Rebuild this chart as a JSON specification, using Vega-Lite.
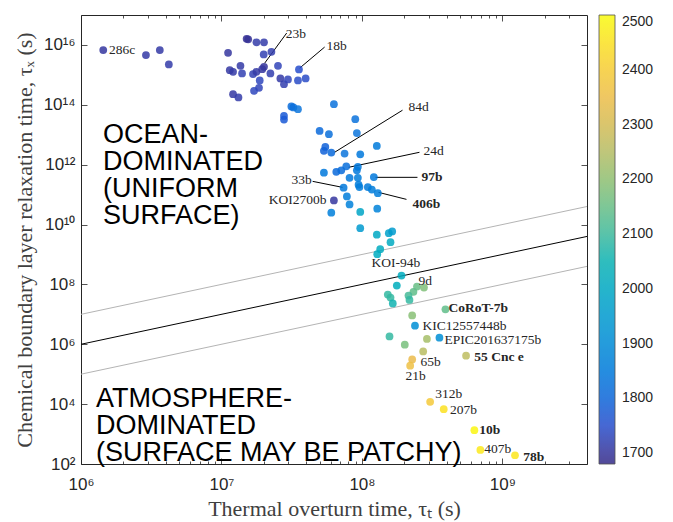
{
  "$schema": "https://vega.github.io/schema/vega-lite/v6.json",
  "width": 506,
  "height": 449,
  "autosize": {"type": "none"},
  "padding": {"left": 81, "top": 15, "right": 86, "bottom": 58},
  "background": "white",
  "datasets": {
    "refs": [
      {"kind": "equal", "x": 1e6, "y": 1e6},
      {"kind": "equal", "x": 4e9, "y": 4e9},
      {"kind": "upper", "x": 1e6, "y": 1e7},
      {"kind": "upper", "x": 4e9, "y": 4e10},
      {"kind": "lower", "x": 1e6, "y": 1e5},
      {"kind": "lower", "x": 4e9, "y": 4e8}
    ],
    "leaders": [
      {"x": 2.912e7, "y": 2.497e16, "x2": 2.031e7, "y2": 2.472e15},
      {"x": 5.424e7, "y": 8.486e15, "x2": 3.602e7, "y2": 1.681e15},
      {"x": 1.944e8, "y": 6.598e13, "x2": 6.388e7, "y2": 2.592e12},
      {"x": 2.567e8, "y": 2.592e12, "x2": 8.032e7, "y2": 8.153e11},
      {"x": 2.484e8, "y": 3.772e11, "x2": 1.249e8, "y2": 3.772e11},
      {"x": 2.075e8, "y": 6.918e10, "x2": 1.312e8, "y2": 1.187e11},
      {"x": 4.456e7, "y": 2.771e11, "x2": 7.28e7, "y2": 1.745e11}
    ],
    "pts": [
      {"x": 1.44e6, "y": 6.73e15, "T": 1705},
      {"x": 2.90e6, "y": 4.58e15, "T": 1712},
      {"x": 3.64e6, "y": 6.73e15, "T": 1712},
      {"x": 4.22e6, "y": 2.24e15, "T": 1715},
      {"x": 1.114e7, "y": 5.47e15, "T": 1705},
      {"x": 1.51e7, "y": 1.60e16, "T": 1695},
      {"x": 1.55e7, "y": 1.54e16, "T": 1695},
      {"x": 1.774e7, "y": 1.22e16, "T": 1715},
      {"x": 2.008e7, "y": 1.22e16, "T": 1715},
      {"x": 1.998e7, "y": 4.83e15, "T": 1725},
      {"x": 2.267e7, "y": 5.91e15, "T": 1720},
      {"x": 1.365e7, "y": 2.01e15, "T": 1712},
      {"x": 1.146e7, "y": 1.44e15, "T": 1708},
      {"x": 1.209e7, "y": 1.26e15, "T": 1712},
      {"x": 1.401e7, "y": 1.12e15, "T": 1725},
      {"x": 1.677e7, "y": 1.06e15, "T": 1725},
      {"x": 1.774e7, "y": 1.26e15, "T": 1712},
      {"x": 2.008e7, "y": 1.86e15, "T": 1700},
      {"x": 1.95e7, "y": 1.55e15, "T": 1705},
      {"x": 2.23e7, "y": 1.12e15, "T": 1720},
      {"x": 2.525e7, "y": 2.01e15, "T": 1730},
      {"x": 1.872e7, "y": 6.51e14, "T": 1735},
      {"x": 1.85e7, "y": 3.68e14, "T": 1730},
      {"x": 1.705e7, "y": 2.92e14, "T": 1735},
      {"x": 1.209e7, "y": 2.27e14, "T": 1708},
      {"x": 1.321e7, "y": 1.76e14, "T": 1715},
      {"x": 2.626e7, "y": 7.6e14, "T": 1712},
      {"x": 2.786e7, "y": 4.9e14, "T": 1720},
      {"x": 2.974e7, "y": 7.04e14, "T": 1730},
      {"x": 3.503e7, "y": 6.51e14, "T": 1745},
      {"x": 3.973e7, "y": 7.6e14, "T": 1745},
      {"x": 3.561e7, "y": 1.52e15, "T": 1750},
      {"x": 3.145e7, "y": 8.78e13, "T": 1815},
      {"x": 3.25e7, "y": 8.2e13, "T": 1820},
      {"x": 3.503e7, "y": 7.13e13, "T": 1835},
      {"x": 2.786e7, "y": 4.25e13, "T": 1770},
      {"x": 2.786e7, "y": 3.22e13, "T": 1770},
      {"x": 6.314e7, "y": 1.05e14, "T": 1830},
      {"x": 8.963e7, "y": 3.3e13, "T": 1830},
      {"x": 4.996e7, "y": 1.34e13, "T": 1810},
      {"x": 5.817e7, "y": 1.04e13, "T": 1825},
      {"x": 9.2e7, "y": 1.14e13, "T": 1835},
      {"x": 5.485e7, "y": 3.9e12, "T": 1790},
      {"x": 5.36e7, "y": 2.91e12, "T": 1790},
      {"x": 6.051e7, "y": 2.53e12, "T": 1810},
      {"x": 7.523e7, "y": 2.34e12, "T": 1835},
      {"x": 9.725e7, "y": 2.22e12, "T": 1845},
      {"x": 1.276e8, "y": 4.21e12, "T": 1850},
      {"x": 5.36e7, "y": 5.42e11, "T": 1845},
      {"x": 6.567e7, "y": 5.76e11, "T": 1810},
      {"x": 7.128e7, "y": 6.47e11, "T": 1815},
      {"x": 7.735e7, "y": 8.81e11, "T": 1820},
      {"x": 9.352e7, "y": 8.47e11, "T": 1845},
      {"x": 9.2e7, "y": 6.47e11, "T": 1845},
      {"x": 8.162e7, "y": 3.63e11, "T": 1845},
      {"x": 9.352e7, "y": 3.63e11, "T": 1855},
      {"x": 1.215e8, "y": 3.86e11, "T": 1845},
      {"x": 7.401e7, "y": 1.7e11, "T": 1845},
      {"x": 9.459e7, "y": 2.15e11, "T": 1855},
      {"x": 9.6e7, "y": 1.79e11, "T": 1855},
      {"x": 1.101e8, "y": 1.79e11, "T": 1850},
      {"x": 1.176e8, "y": 1.47e11, "T": 1855},
      {"x": 1.297e8, "y": 1.12e11, "T": 1855},
      {"x": 7.812e7, "y": 8.72e10, "T": 1855},
      {"x": 6.314e7, "y": 6.41e10, "T": 1705},
      {"x": 8.162e7, "y": 4.7e10, "T": 1870},
      {"x": 6.051e7, "y": 2.48e10, "T": 1865},
      {"x": 9.725e7, "y": 2.64e10, "T": 1990},
      {"x": 1.285e8, "y": 3.38e10, "T": 1875},
      {"x": 9.725e7, "y": 7.57e9, "T": 1950},
      {"x": 1.276e8, "y": 4.6e9, "T": 2000},
      {"x": 1.553e8, "y": 5.15e9, "T": 1975},
      {"x": 1.642e8, "y": 5.87e9, "T": 1955},
      {"x": 1.597e8, "y": 2.57e9, "T": 2010},
      {"x": 1.349e8, "y": 1.5e9, "T": 2015},
      {"x": 1.285e8, "y": 1.02e9, "T": 2015},
      {"x": 1.912e8, "y": 1.98e8, "T": 2020},
      {"x": 1.771e8, "y": 9.14e7, "T": 2025},
      {"x": 2.464e8, "y": 8.46e7, "T": 2150},
      {"x": 2.764e8, "y": 7.83e7, "T": 2180},
      {"x": 2.326e8, "y": 5.67e7, "T": 2140},
      {"x": 1.528e8, "y": 4.57e7, "T": 2090},
      {"x": 1.597e8, "y": 3.62e7, "T": 2090},
      {"x": 1.658e8, "y": 2.32e7, "T": 2055},
      {"x": 2.144e8, "y": 4.23e7, "T": 2110},
      {"x": 2.179e8, "y": 3.04e7, "T": 2090},
      {"x": 3.929e8, "y": 1.47e7, "T": 2140},
      {"x": 2.278e8, "y": 9.19e6, "T": 2190},
      {"x": 2.385e8, "y": 4.18e6, "T": 1910},
      {"x": 1.571e8, "y": 1.83e6, "T": 2090},
      {"x": 2.901e8, "y": 1.5e6, "T": 2230},
      {"x": 3.561e8, "y": 1.66e6, "T": 1910},
      {"x": 2.018e8, "y": 9.67e5, "T": 2170},
      {"x": 2.728e8, "y": 5.77e5, "T": 2255},
      {"x": 5.51e8, "y": 4.14e5, "T": 2265},
      {"x": 2.278e8, "y": 3.12e5, "T": 2340},
      {"x": 2.204e8, "y": 1.92e5, "T": 2360},
      {"x": 3.058e8, "y": 1.2e4, "T": 2390},
      {"x": 3.821e8, "y": 6.81e3, "T": 2450},
      {"x": 6.314e8, "y": 1.35e3, "T": 2490},
      {"x": 6.965e8, "y": 2.95e2, "T": 2465},
      {"x": 1.229e9, "y": 1.96e2, "T": 2460}
    ],
    "labelsLeft": [
      {"x": 1.581e6, "y": 6.73e15, "label": "286c"},
      {"x": 2.864e7, "y": 2.312e16, "label": "23b"},
      {"x": 5.604e7, "y": 9.38e15, "label": "18b"},
      {"x": 2.144e8, "y": 8.128e13, "label": "84d"},
      {"x": 2.741e8, "y": 2.8e12, "label": "24d"},
      {"x": 1.17e8, "y": 5.383e8, "label": "KOI-94b"},
      {"x": 2.526e8, "y": 1.343e8, "label": "9d"},
      {"x": 2.696e8, "y": 4.184e6, "label": "KIC12557448b"},
      {"x": 3.864e8, "y": 1.422e6, "label": "EPIC201637175b"},
      {"x": 2.61e8, "y": 2.472e5, "label": "65b"},
      {"x": 2.041e8, "y": 8.4e4, "label": "21b"},
      {"x": 3.319e8, "y": 2.265e4, "label": "312b"},
      {"x": 4.243e8, "y": 6.457e3, "label": "207b"},
      {"x": 7.436e8, "y": 3.119e2, "label": "407b"}
    ],
    "labelsRight": [
      {"x": 4.384e7, "y": 3.158e11, "label": "33b"},
      {"x": 5.604e7, "y": 6.406e10, "label": "KOI2700b"}
    ],
    "labelsBold": [
      {"x": 2.652e8, "y": 3.772e11, "label": "97b"},
      {"x": 2.289e8, "y": 4.705e10, "label": "406b"},
      {"x": 4.126e8, "y": 1.589e7, "label": "CoRoT-7b"},
      {"x": 6.314e8, "y": 3.635e5, "label": "55 Cnc e"},
      {"x": 6.852e8, "y": 1.349e3, "label": "10b"},
      {"x": 1.408e9, "y": 1.722e2, "label": "78b"}
    ],
    "regions": [
      {"x": 1.433e6, "y": 5.185e12, "text": "OCEAN-\nDOMINATED\n(UNIFORM\nSURFACE)"},
      {"x": 1.278e6, "y": 8.13e3, "text": "ATMOSPHERE-\nDOMINATED\n(SURFACE MAY BE PATCHY)"}
    ]
  },
  "resolve": {"axis": {"x": "independent", "y": "independent"}},
  "layer": [
    {
      "data": {"name": "refs"},
      "mark": {"type": "line", "strokeWidth": 1},
      "encoding": {
        "x": {"field": "x", "type": "quantitative", "scale": {"type": "log", "domain": [1e6, 4e9], "nice": false},
          "axis": {"orient": "bottom", "values": [1e6, 1e7, 1e8, 1e9], "tickSize": -6, "labelPadding": 18,
            "labelExpr": "'10' + substring('⁰¹²³⁴⁵⁶⁷⁸⁹', round(log(datum.value)/LN10), round(log(datum.value)/LN10) + 1)",
            "title": "Thermal overturn time, τₜ (s)", "titlePadding": 6}},
        "y": {"field": "y", "type": "quantitative", "scale": {"type": "log", "domain": [1e2, 1e17], "nice": false},
          "axis": {"orient": "left", "values": [1e2, 1e4, 1e6, 1e8, 1e10, 1e12, 1e14, 1e16], "tickSize": -6, "labelPadding": 12,
            "labelExpr": "'10' + (datum.value >= 1e10 ? '¹' : '') + substring('⁰¹²³⁴⁵⁶⁷⁸⁹', round(log(datum.value)/LN10) % 10, round(log(datum.value)/LN10) % 10 + 1)",
            "title": "Chemical boundary layer relaxation time, τₓ (s)", "titlePadding": 7}},
        "stroke": {"field": "kind", "type": "nominal", "scale": {"domain": ["equal", "upper", "lower"], "range": ["#000000", "#b4b4b4", "#b4b4b4"]}, "legend": null}
      }
    },
    {
      "data": {"name": "leaders"},
      "mark": {"type": "rule", "color": "#000000", "strokeWidth": 1},
      "encoding": {
        "x": {"field": "x", "type": "quantitative", "scale": {"type": "log", "domain": [1e6, 4e9], "nice": false},
          "axis": {"orient": "bottom", "values": [2e6, 3e6, 4e6, 5e6, 6e6, 7e6, 8e6, 9e6, 2e7, 3e7, 4e7, 5e7, 6e7, 7e7, 8e7, 9e7, 2e8, 3e8, 4e8, 5e8, 6e8, 7e8, 8e8, 9e8, 2e9, 3e9], "tickSize": -3, "labels": false, "title": null}},
        "y": {"field": "y", "type": "quantitative", "scale": {"type": "log", "domain": [1e2, 1e17], "nice": false},
          "axis": {"orient": "right", "values": [1e2, 1e4, 1e6, 1e8, 1e10, 1e12, 1e14, 1e16], "tickSize": -6, "labels": false, "title": null}},
        "x2": {"field": "x2"},
        "y2": {"field": "y2"}
      }
    },
    {
      "data": {"name": "pts"},
      "mark": {"type": "circle", "size": 60, "opacity": 0.85},
      "encoding": {
        "x": {"field": "x", "type": "quantitative", "scale": {"type": "log", "domain": [1e6, 4e9], "nice": false},
          "axis": {"orient": "top", "values": [1e6, 1e7, 1e8, 1e9], "tickSize": -6, "labels": false, "title": null}},
        "y": {"field": "y", "type": "quantitative", "scale": {"type": "log", "domain": [1e2, 1e17], "nice": false}, "axis": null},
        "color": {"field": "T", "type": "quantitative",
          "scale": {"domain": [1680, 1758.1, 1836.2, 1927.3, 2005.4, 2083.5, 2174.6, 2252.7, 2330.8, 2421.9, 2500],
            "range": ["#352A87", "#2053D4", "#0D75DC", "#0C93D2", "#07A9C2", "#2EB7A4", "#7CBF7B", "#B7BD64", "#E9B94E", "#F9D32A", "#F9FB0E"]},
          "legend": {"orient": "right", "offset": 10, "padding": 0, "title": null, "direction": "vertical", "format": "d",
            "gradientLength": 449, "gradientThickness": 16, "gradientStrokeColor": "#333333", "gradientStrokeWidth": 0.8,
            "values": [1700, 1800, 1900, 2000, 2100, 2200, 2300, 2400, 2500],
            "labelFont": "Liberation Sans", "labelFontSize": 14, "labelColor": "#262626", "labelOffset": 7, "labelOverlap": false, "labelBaseline": "middle"}}
      }
    },
    {
      "data": {"name": "labelsLeft"},
      "mark": {"type": "text", "align": "left", "baseline": "middle", "font": "Liberation Serif", "fontSize": 13.5, "color": "#262626"},
      "encoding": {
        "x": {"field": "x", "type": "quantitative", "scale": {"type": "log", "domain": [1e6, 4e9], "nice": false},
          "axis": {"orient": "top", "values": [2e6, 3e6, 4e6, 5e6, 6e6, 7e6, 8e6, 9e6, 2e7, 3e7, 4e7, 5e7, 6e7, 7e7, 8e7, 9e7, 2e8, 3e8, 4e8, 5e8, 6e8, 7e8, 8e8, 9e8, 2e9, 3e9], "tickSize": -3, "labels": false, "title": null}},
        "y": {"field": "y", "type": "quantitative", "scale": {"type": "log", "domain": [1e2, 1e17], "nice": false}, "axis": null},
        "text": {"field": "label"}
      }
    },
    {
      "data": {"name": "labelsRight"},
      "mark": {"type": "text", "align": "right", "baseline": "middle", "font": "Liberation Serif", "fontSize": 13.5, "color": "#262626"},
      "encoding": {
        "x": {"field": "x", "type": "quantitative", "scale": {"type": "log", "domain": [1e6, 4e9], "nice": false}, "axis": null},
        "y": {"field": "y", "type": "quantitative", "scale": {"type": "log", "domain": [1e2, 1e17], "nice": false}, "axis": null},
        "text": {"field": "label"}
      }
    },
    {
      "data": {"name": "labelsBold"},
      "mark": {"type": "text", "align": "left", "baseline": "middle", "font": "Liberation Serif", "fontSize": 13.5, "fontWeight": "bold", "color": "#262626"},
      "encoding": {
        "x": {"field": "x", "type": "quantitative", "scale": {"type": "log", "domain": [1e6, 4e9], "nice": false}, "axis": null},
        "y": {"field": "y", "type": "quantitative", "scale": {"type": "log", "domain": [1e2, 1e17], "nice": false}, "axis": null},
        "text": {"field": "label"}
      }
    },
    {
      "data": {"name": "regions"},
      "mark": {"type": "text", "align": "left", "baseline": "alphabetic", "font": "Liberation Sans", "fontSize": 27, "lineHeight": 27, "lineBreak": "\n", "color": "#000000"},
      "encoding": {
        "x": {"field": "x", "type": "quantitative", "scale": {"type": "log", "domain": [1e6, 4e9], "nice": false}, "axis": null},
        "y": {"field": "y", "type": "quantitative", "scale": {"type": "log", "domain": [1e2, 1e17], "nice": false}, "axis": null},
        "text": {"field": "text"}
      }
    }
  ],
  "config": {
    "view": {"stroke": "#262626", "strokeWidth": 1},
    "axis": {"grid": false, "domain": false, "labelFlush": false, "labelOverlap": false, "tickColor": "#262626", "tickWidth": 0.8,
      "labelColor": "#262626", "titleColor": "#404040", "labelFont": "Liberation Sans", "labelFontSize": 17,
      "titleFont": "Liberation Serif", "titleFontSize": 22, "titleFontWeight": "normal"}
  }
}
